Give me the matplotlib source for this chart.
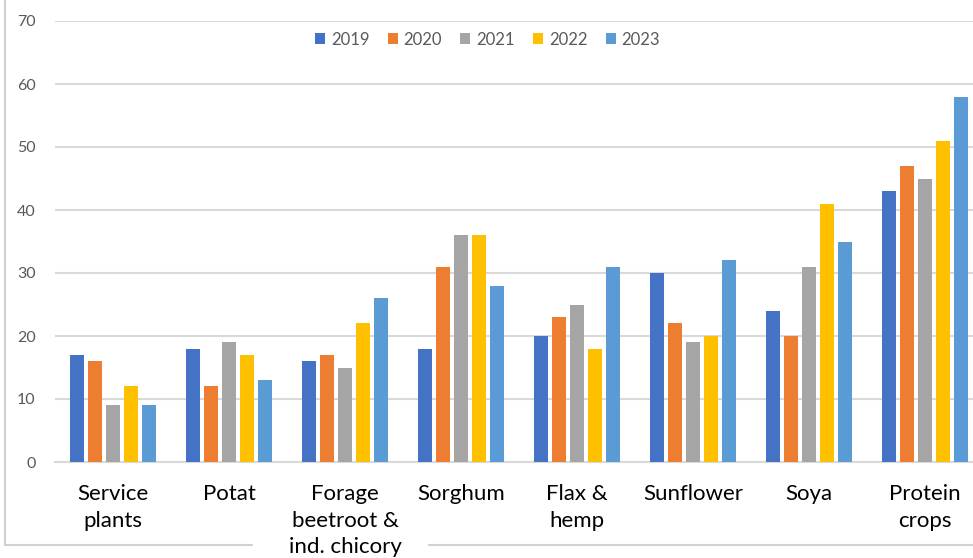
import numpy as np
import matplotlib
matplotlib.use("Agg")
import matplotlib.pyplot as plt
from matplotlib.lines import Line2D
from matplotlib.patches import Rectangle

plt.rcParams['font.family'] = ['Lato', 'DejaVu Sans']

# ===========================================
# data

categories = ["Service\nplants", "Potat", "Forage\nbeetroot &\nind. chicory",
              "Sorghum", "Flax &\nhemp", "Sunflower", "Soya", "Protein\ncrops"]
years = ["2019", "2020", "2021", "2022", "2023"]

v2019 = [17, 18, 16, 18, 20, 30, 24, 43]
v2020 = [16, 12, 17, 31, 23, 22, 20, 47]
v2021 = [9, 19, 15, 36, 25, 19, 31, 45]
v2022 = [12, 17, 22, 36, 18, 20, 41, 51]
v2023 = [9, 13, 26, 28, 31, 32, 35, 58]

yticks = [0, 10, 20, 30, 40, 50, 60, 70]

colors = ["#4472C4", "#ED7D31", "#A5A5A5", "#FFC000", "#5B9BD5"]

# ===========================================

W, H = 973, 558
fig = plt.figure(figsize=(W / 100, H / 100), dpi=100)

# axes runs off the right edge like in the screenshot
x0, x1 = 55, 983
y0, y1 = 462, 21
ax = fig.add_axes([x0 / W, 1 - y0 / H, (x1 - x0) / W, (y0 - y1) / H])

x = np.arange(len(categories))
series = [v2019, v2020, v2021, v2022, v2023]
pitch = 0.155
width = 0.12
for i, (vals, c, yr) in enumerate(zip(series, colors, years)):
    ax.bar(x + (i - 2) * pitch, vals, width, color=c, label=yr, zorder=3)

ax.set_xlim(-0.5, len(categories) - 0.5)
ax.set_ylim(0, 70)
ax.set_yticks(yticks)
ax.yaxis.grid(True, color="#d9d9d9", lw=1.5, zorder=0)
ax.tick_params(axis="y", length=0, pad=14, labelsize=11.5, labelcolor="#595959")
ax.tick_params(axis="x", length=0, pad=16)
ax.set_xticks(x)
ax.set_xticklabels(categories, fontsize=16, color="black", linespacing=1.4)
for s in ["top", "right", "left"]:
    ax.spines[s].set_visible(False)
ax.spines["bottom"].set_color("#d9d9d9")
ax.spines["bottom"].set_linewidth(1.5)

leg = ax.legend(loc="upper left", bbox_to_anchor=((300 - x0) / (x1 - x0), 1.01),
                ncol=5, frameon=False, fontsize=12, handlelength=0.6,
                handleheight=0.6, handletextpad=0.35, columnspacing=1.1)
for t in leg.get_texts():
    t.set_color("#595959")

# frame of the screenshot, drawn under the axes
fig.add_artist(Line2D([5 / W, 5 / W], [1, 1 - 545 / H], color="#d0d0d0", lw=1.5, zorder=-2))
fig.add_artist(Line2D([5 / W, 1], [1 - 545 / H, 1 - 545 / H], color="#d0d0d0", lw=1.5, zorder=-2))
fig.add_artist(Rectangle((253 / W, 0), (427 - 253) / W, 38 / H,
                         transform=fig.transFigure, color="white", zorder=-1))

plt.savefig("out.png", dpi=100)
